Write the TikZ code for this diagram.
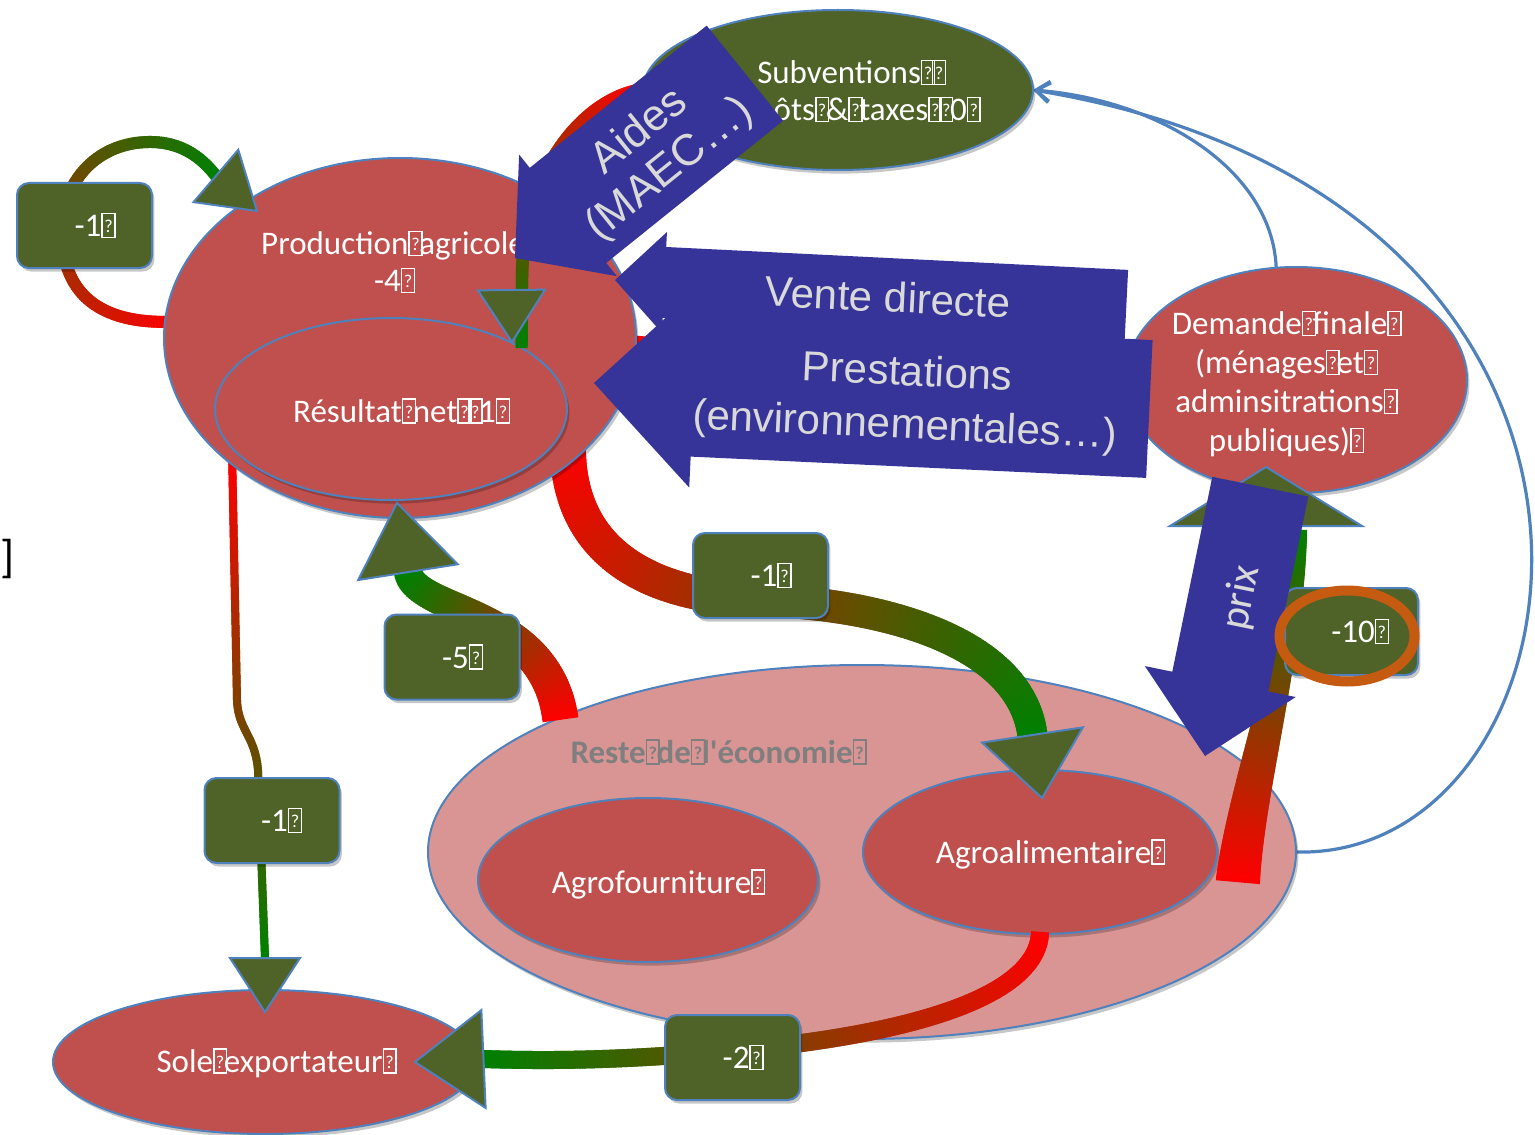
\documentclass[tikz,border=0pt]{standalone}
\usepackage{fontspec}
\usepackage{graphicx}
\setmainfont{Carlito}
\newfontfamily\arialfam{Liberation Sans}
\usetikzlibrary{shapes.geometric,calc,decorations.markings,arrows.meta,shadows}

\definecolor{ellred}{RGB}{192,80,77}
\definecolor{olivebox}{RGB}{79,98,40}
\definecolor{restefill}{RGB}{217,149,148}
\definecolor{bord}{RGB}{79,129,189}
\definecolor{blockblue}{RGB}{54,52,152}
\definecolor{lightt}{RGB}{217,217,217}
\definecolor{ringor}{RGB}{197,90,17}
\definecolor{grayt}{RGB}{127,127,127}
\definecolor{gred}{RGB}{255,0,0}
\definecolor{ggreen}{RGB}{0,128,0}

\pgfdeclarelayer{thin}
\pgfdeclarelayer{ellA}
\pgfdeclarelayer{bands}
\pgfdeclarelayer{ellB}
\pgfdeclarelayer{bandtop}
\pgfdeclarelayer{ellC}
\pgfdeclarelayer{heads}
\pgfdeclarelayer{labels}
\pgfdeclarelayer{blocks}
\pgfsetlayers{thin,ellA,bands,ellB,bandtop,ellC,heads,labels,blocks,main}

% missing-glyph box as printed in the labels
\newcommand\mg{\rlap{\setlength\fboxsep{0pt}\setlength\fboxrule{0.045em}\fbox{\makebox[0.34em]{\rule{0pt}{0.68em}\raisebox{0.12em}{\scalebox{0.55}{?}}}}}\kern0.33em}

% base midpoint of a triangular head: tip, direction, height (pt), name
\newcommand\headbase[4]{\coordinate (#4) at ($(#1)+({#2+180}:#3pt)$);}
% triangular head: tip, direction, height (pt), half base (pt)
\newcommand\headtri[4]{%
  \pgfmathsetmacro\hbeta{atan(#4/#3)}%
  \pgfmathsetmacro\hside{veclen(#3,#4)}%
  \draw[headst] (#1) -- ($(#1)+({#2+180+\hbeta}:\hside pt)$) -- ($(#1)+({#2+180-\hbeta}:\hside pt)$) -- cycle;}
% block arrow: tip, rotation, length, body half width, head half width, head length
\newcommand\blockarrow[6]{%
  \fill[blockst, shift={(#1)}, rotate=#2] (0,0) -- (#6,-#5) -- (#6,-#4) -- (#3,-#4) -- (#3,#4) -- (#6,#4) -- (#6,#5) -- cycle;}

\tikzset{
  softshadow/.style={drop shadow={shadow xshift=1.2pt, shadow yshift=-1.8pt, opacity=0.22, fill=black}},
  ell/.style={ellipse, draw=bord, line width=1pt, fill=ellred, inner sep=0pt, outer sep=0pt, softshadow},
  etext/.style={text=white, align=center, font=\fontsize{16.5}{18.5}\selectfont, inner sep=0pt},
  lab/.style={rounded corners=6pt, fill=olivebox, draw=bord, line width=1pt, minimum width=67.5pt,
    minimum height=42.5pt, text=white, font=\fontsize{16.5}{19}\selectfont, inner sep=0pt, softshadow},
  headst/.style={fill=olivebox, draw=bord, line width=1pt, line join=miter},
  blockst/.style={fill=blockblue},
  atext/.style={text=lightt, align=center, font=\arialfam\fontsize{21}{26.5}\selectfont, inner sep=0pt},
  thinblue/.style={draw=bord, line width=1.6pt},
  gband/.style n args={4}{decoration={markings,
    mark=between positions 0 and 1 step 1.2pt with {%
      \pgfmathsetmacro\gfr{\pgfkeysvalueof{/pgf/decoration/mark info/distance from start}/\pgfdecoratedpathlength}%
      \pgfmathsetmacro\gpc{100*\gfr}%
      \pgfmathsetmacro\gwd{#1+(#2-#1)*\gfr}%
      \colorlet{gcol}{#4!\gpc!#3}%
      \draw[gcol, line width=\gwd pt] (-1.1pt,0) -- (1.1pt,0);
    }}, decorate}
}

\begin{document}
\begin{tikzpicture}[x=0.5pt, y=-0.5pt]
\useasboundingbox (0,0) rectangle (1535,1134);

% ---------- sectors ----------
\begin{pgfonlayer}{ellA}
  \node[ell, minimum width=195pt, minimum height=80pt, fill=olivebox] (subv) at (838,90) {};
  \node[etext] (subvt) at (850,93) {Subventions\mg\mg\\impôts\mg\&\mg taxes\mg\mg 0\mg};
  \node[ell, minimum width=434pt, minimum height=187pt, fill=restefill] (reste) at (862,852) {};
  \node[etext, text=grayt, font=\bfseries\fontsize{16.5}{18.5}\selectfont] (restet) at (717,752) {Reste\mg de\mg l\textquotesingle économie\mg};
  \node[ell, minimum width=170pt, minimum height=82pt] (agrof) at (648,880) {};
  \node[etext] (agroft) at (657,884) {Agrofourniture\mg};
  \node[ell, minimum width=177pt, minimum height=82pt] (agroal) at (1040,852) {};
  \node[etext] (agroalt) at (1049,854) {Agroalimentaire\mg};
  \node[ell, minimum width=212pt, minimum height=72pt] (sole) at (265,1062) {};
  \node[etext] (solet) at (275,1063) {Sole\mg exportateur\mg};
\end{pgfonlayer}

\begin{pgfonlayer}{ellB}
  \node[ell, minimum width=236pt, minimum height=180pt] (prod) at (400,338) {};
  \node[etext] (prodt) at (393,262) {Production\mg agricole\\-4\mg};
  \node[ell, minimum width=176pt, minimum height=91pt] (res) at (391,409) {};
  \node[etext] (resT) at (400,411) {Résultat\mg net\mg\mg 1\mg};
\end{pgfonlayer}

\begin{pgfonlayer}{ellC}
  \node[ell, minimum width=171pt, minimum height=113pt] (dem) at (1296,380) {};
  \node[etext, font=\fontsize{16.5}{19.5}\selectfont] (demt) at (1285,384)
    {Demande\mg finale\mg\\(ménages\mg et\mg\\adminsitrations\mg\\publiques)\mg};
\end{pgfonlayer}

% ---------- head tips and band ends ----------
\coordinate (tA) at (257,211);
\coordinate (tB) at (512,342);
\coordinate (tC) at (1042,798);
\coordinate (tD) at (397,503);
\coordinate (tE) at (265,1012);
\coordinate (tF) at (415,1062);
\coordinate (tG) at (1266,467);
\coordinate (Gend) at (1299,530);
\headbase{tA}{-40.5}{27}{Ab}
\headbase{tC}{-81.4}{31.9}{Cb}
\headbase{tD}{99}{35}{Db}
\headbase{tE}{-90}{27}{Eb}
\headbase{tF}{182.5}{34.3}{Fb}

% ---------- money flows to the public sector ----------
\begin{pgfonlayer}{thin}
  \draw[thinblue, -{Straight Barb[length=7pt,width=10pt]}] (reste.east) .. controls (1600,860) and (1700,200) .. (subv.east);
  \draw[thinblue, -{Straight Barb[length=7pt,width=10pt]}] (dem.100) .. controls (1272,170) and (1160,100) .. (subv.east);
\end{pgfonlayer}

% ---------- impact bands ----------
\begin{pgfonlayer}{bands}
  \draw[gred, line width=6.5pt] (prod.-1) -- (dem.182);
  \path[gband={6}{6}{gred}{ggreen}] ([xshift=6pt]prod.176) .. controls (90,326) and (62,285) .. (62,232)
     .. controls (62,178) and (100,142) .. (150,142) .. controls (182,142) and (202,158) .. (Ab);
  \path[gband={18}{15}{gred}{ggreen}] ([yshift=10pt]prod.-37) .. controls (567,560) and (660,597) .. (760,600)
     .. controls (880,604) and (1020,640) .. (Cb);
  \path[gband={18}{14}{gred}{ggreen}] (reste.156.7) .. controls (545,610) and (415,612) .. (Db);
  \path[gband={4}{4}{gred}{ggreen}] ([yshift=4pt]prod.217.7) -- (237,700) .. controls (238,730) and (255,735) .. (258,770) -- (Eb);
  \path[gband={9}{9}{gred}{ggreen}] (agroal.-90) .. controls (1035,1000) and (900,1035) .. (740,1050)
     .. controls (620,1061) and (545,1061) .. (Fb);
  \path[gband={22}{8}{gred}{ggreen}] ([xshift=10.5pt,yshift=-14pt]agroal.east) .. controls (1246,790) and (1292,650) .. (Gend);
\end{pgfonlayer}

\begin{pgfonlayer}{bandtop}
  \path[gband={7}{6}{gred}{ggreen}] (subv.180) .. controls (585,98) and (522,170) .. (522,280) -- (res.25);
\end{pgfonlayer}

% ---------- arrow heads ----------
\begin{pgfonlayer}{heads}
  \headtri{tA}{-40.5}{27}{17.2}
  \headtri{tB}{-89.4}{26}{16.8}
  \headtri{tC}{-81.4}{31.9}{25.5}
  \headtri{tD}{99}{35}{25.2}
  \headtri{tE}{-90}{27}{17.5}
  \headtri{tF}{182.5}{34.3}{24.5}
  \headtri{tG}{90}{29.5}{48}
\end{pgfonlayer}

% ---------- impact values ----------
\begin{pgfonlayer}{labels}
  \node[lab] (l1) at (84.5,225.5) {\hspace*{9pt}-1\mg};
  \node[lab] (l2) at (760.5,575.5) {\hspace*{9pt}-1\mg};
  \node[lab] (l5) at (452,657) {\hspace*{9pt}-5\mg};
  \node[lab] (l3) at (272,820.5) {\hspace*{8pt}-1\mg};
  \node[lab] (l4) at (732.5,1057.5) {\hspace*{9pt}-2\mg};
  \node[lab, minimum width=66.5pt, minimum height=43.5pt] (l10) at (1351.5,631.5) {\hspace*{7pt}-10\mg};
\end{pgfonlayer}

% ---------- block arrows ----------
\coordinate (tV) at (615,280);
\coordinate (tP) at (594,383);
\coordinate (tAi) at (515,258);
\coordinate (tPx) at (1205,756);
\begin{pgfonlayer}{blocks}
  \blockarrow{tV}{-2.84}{512}{35.5}{50.5}{49.5}
  \node[atext, rotate=-2.84] (ventet) at (888,297) {Vente directe};
  \blockarrow{tP}{-2.68}{556}{69}{100}{100}
  \node[atext, rotate=-2.68] (prestt) at (906,401) {Prestations\\(environnementales…)};
  \blockarrow{tAi}{38.8}{295}{61}{78}{68}
  \node[atext, rotate=38.8, font=\arialfam\fontsize{22}{24}\selectfont] (aidest) at (655,151) {Aides\\(MAEC…)};
  \blockarrow{tPx}{78.4}{275}{49}{77}{76}
  \node[atext, rotate=78.4, font=\fontsize{21}{24}\selectfont] (prixt) at (1242,598) {prix};
\end{pgfonlayer}

\node[ellipse, draw=ringor, line width=5pt, minimum width=67.5pt, minimum height=45.5pt, inner sep=0pt] (ring) at (1347,636) {};
\node[font=\fontsize{23}{26}\selectfont, inner sep=0pt] (brk) at (8,559) {]};
\end{tikzpicture}
\end{document}
